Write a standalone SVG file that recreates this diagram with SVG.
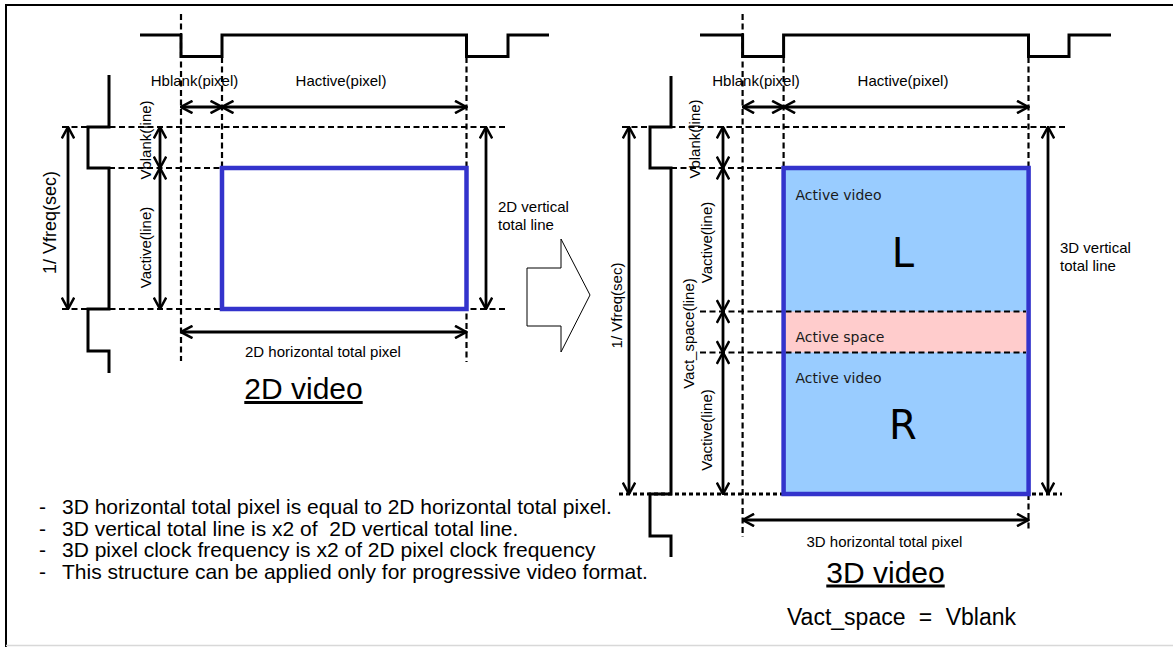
<svg xmlns="http://www.w3.org/2000/svg" width="1173" height="647" viewBox="0 0 1173 647">
<defs>
<style>
.solid{stroke:#000;stroke-width:3;fill:none;stroke-linejoin:miter}
.dash{stroke:#000;stroke-width:2.2;stroke-dasharray:6 3.5;fill:none}
.dim{stroke:#000;stroke-width:2.8;fill:none;marker-start:url(#ah);marker-end:url(#ah)}
.lbl{font-family:"Liberation Sans",Arial,sans-serif;font-size:15px;fill:#000}
.big{font-family:"Liberation Sans",Arial,sans-serif;font-size:30px;fill:#000;text-decoration:underline}
.note{font-family:"Liberation Sans",Arial,sans-serif;font-size:21px;fill:#000;white-space:pre}
.area{font-family:"DejaVu Sans",Verdana,sans-serif;font-size:14px;fill:#1a1a1a}
.eye{font-family:"DejaVu Sans",Verdana,sans-serif;font-size:40px;fill:#000}
.frame{stroke:#3333CC;stroke-width:4.5;fill:none}
</style>
<marker id="ah" viewBox="0 0 14 14" markerWidth="14" markerHeight="14" refX="13" refY="7" orient="auto-start-reverse" markerUnits="userSpaceOnUse">
<path d="M1.5,0.8 L13,7 L1.5,13.2" fill="none" stroke="#000" stroke-width="2.5"/>
</marker>
</defs>
<rect width="1173" height="647" fill="#fff"/>
<g id="border">
<line x1="6" y1="5" x2="1173" y2="5" stroke="#000" stroke-width="2"/>
<line x1="6" y1="4" x2="6" y2="647" stroke="#000" stroke-width="2"/>
<line x1="6" y1="645.5" x2="1173" y2="645.5" stroke="#d8d8d8" stroke-width="1.5"/>
</g>

<g id="panel-2d">
<g id="guides-2d">
<line class="dash" x1="181" y1="14" x2="181" y2="361"/>
<line class="dash" x1="222" y1="57" x2="222" y2="168"/>
<line class="dash" x1="466.5" y1="57" x2="466.5" y2="362"/>
<line class="dash" x1="62" y1="127" x2="506" y2="127"/>
<line class="dash" x1="109" y1="168" x2="222" y2="168"/>
<line class="dash" x1="62" y1="309" x2="506" y2="309"/>
</g>
<g id="hsync-2d"><polyline class="solid" points="140,35 181,35 181,56.5 222,56.5 222,35 466.5,35 466.5,56.5 508,56.5 508,35 549,35"/></g>
<g id="vsync-2d"><polyline class="solid" points="109,75 109,127 88,127 88,168 109,168 109,309 88,309 88,351 109,351 109,373"/></g>
<g id="active-2d"><rect class="frame" x="222" y="168" width="244.5" height="141"/></g>
<g id="labels-2d">
<text class="lbl" x="194.5" y="86" text-anchor="middle">Hblank(pixel)</text>
<text class="lbl" x="341" y="86" text-anchor="middle">Hactive(pixel)</text>
<text class="lbl" transform="translate(55.5,222.5) rotate(-90)" text-anchor="middle" style="font-size:18px">1/ Vfreq(sec)</text>
<text class="lbl" transform="translate(150.5,140) rotate(-90)" text-anchor="middle">Vblank(line)</text>
<text class="lbl" transform="translate(150.5,247.5) rotate(-90)" text-anchor="middle">Vactive(line)</text>
<text class="lbl" x="498" y="212">2D vertical</text>
<text class="lbl" x="498" y="230">total line</text>
<text class="lbl" x="323" y="357" text-anchor="middle">2D horizontal total pixel</text>
<text class="big" x="303.5" y="399" text-anchor="middle">2D video</text>
</g>
</g>

<g id="convert-arrow">
<polygon points="527,268 561,268 561,239 590,295 561,352 561,326 527,326" fill="#fff" stroke="#000" stroke-width="1"/>
</g>

<g id="panel-3d">
<g id="active-3d">
<rect x="783.6" y="168" width="245" height="326" fill="#99CCFF"/>
<rect x="783.6" y="311.5" width="245" height="41" fill="#FFCCCC"/>
</g>
<g id="guides-3d">
<line class="dash" x1="742.6" y1="14" x2="742.6" y2="537"/>
<line class="dash" x1="783.6" y1="57" x2="783.6" y2="168"/>
<line class="dash" x1="1028.5" y1="57" x2="1028.5" y2="532"/>
<line class="dash" x1="622" y1="127" x2="1066" y2="127"/>
<line class="dash" x1="671" y1="168" x2="783.6" y2="168"/>
<line class="dash" x1="700" y1="311.5" x2="1026" y2="311.5"/>
<line class="dash" x1="700" y1="352.5" x2="1026" y2="352.5"/>
<line class="dash" x1="619" y1="494" x2="1062" y2="494" style="stroke-width:3;stroke-dasharray:4 3"/>
</g>
<rect class="frame" x="783.6" y="168" width="245" height="326"/>
<g id="hsync-3d"><polyline class="solid" points="700,35 742.6,35 742.6,56.5 783.6,56.5 783.6,35 1028.5,35 1028.5,56.5 1069,56.5 1069,35 1111,35"/></g>
<g id="vsync-3d"><polyline class="solid" points="671,76 671,127 650,127 650,168 671,168 671,494 650,494 650,536 671,536 671,557"/></g>
<g id="labels-3d">
<text class="lbl" x="756" y="86" text-anchor="middle">Hblank(pixel)</text>
<text class="lbl" x="903" y="86" text-anchor="middle">Hactive(pixel)</text>
<text class="lbl" transform="translate(622,305.5) rotate(-90)" text-anchor="middle">1/ Vfreq(sec)</text>
<text class="lbl" transform="translate(700,139) rotate(-90)" text-anchor="middle">Vblank(line)</text>
<text class="lbl" transform="translate(711.5,242.5) rotate(-90)" text-anchor="middle">Vactive(line)</text>
<text class="lbl" transform="translate(693.5,333.5) rotate(-90)" text-anchor="middle">Vact_space(line)</text>
<text class="lbl" transform="translate(711.5,430) rotate(-90)" text-anchor="middle">Vactive(line)</text>
<text class="area" x="795.5" y="200">Active video</text>
<text class="eye" x="903" y="267" text-anchor="middle">L</text>
<text class="area" x="795.5" y="341.5">Active space</text>
<text class="area" x="795.5" y="382.5">Active video</text>
<text class="eye" x="903" y="438.5" text-anchor="middle">R</text>
<text class="lbl" x="1060" y="252.5">3D vertical</text>
<text class="lbl" x="1060" y="270.5">total line</text>
<text class="lbl" x="884.5" y="547" text-anchor="middle">3D horizontal total pixel</text>
<text class="big" x="885.5" y="582.5" text-anchor="middle">3D video</text>
<text class="lbl" x="901.5" y="625" text-anchor="middle" style="font-size:23px;word-spacing:7px">Vact_space = Vblank</text>
</g>
</g>

<g id="connectors">
<line class="dim" x1="181" y1="107" x2="222" y2="107"/>
<line class="dim" x1="222" y1="107" x2="466.5" y2="107"/>
<line class="dim" x1="68" y1="127" x2="68" y2="309"/>
<line class="dim" x1="160" y1="127" x2="160" y2="168"/>
<line class="dim" x1="160" y1="168" x2="160" y2="309"/>
<line class="dim" x1="486" y1="127" x2="486" y2="309"/>
<line class="dim" x1="181" y1="332" x2="466.5" y2="332"/>
<line class="dim" x1="742.6" y1="107" x2="783.6" y2="107"/>
<line class="dim" x1="783.6" y1="107" x2="1028.5" y2="107"/>
<line class="dim" x1="629" y1="127" x2="629" y2="494"/>
<line class="dim" x1="723" y1="127" x2="723" y2="168"/>
<line class="dim" x1="723" y1="168" x2="723" y2="311.5"/>
<line class="dim" x1="723" y1="311.5" x2="723" y2="352.5"/>
<line class="dim" x1="723" y1="352.5" x2="723" y2="494"/>
<line class="dim" x1="1048" y1="127" x2="1048" y2="494"/>
<line class="dim" x1="742.6" y1="520" x2="1028.5" y2="520"/>
</g>

<g id="notes">
<text class="note" x="39" y="514">-</text>
<text class="note" x="62" y="514">3D horizontal total pixel is equal to 2D horizontal total pixel.</text>
<text class="note" x="39" y="535.5">-</text>
<text class="note" x="62" y="535.5">3D vertical total line is x2 of  2D vertical total line.</text>
<text class="note" x="39" y="557">-</text>
<text class="note" x="62" y="557">3D pixel clock frequency is x2 of 2D pixel clock frequency</text>
<text class="note" x="39" y="578.5">-</text>
<text class="note" x="62" y="578.5">This structure can be applied only for progressive video format.</text>
</g>
</svg>
